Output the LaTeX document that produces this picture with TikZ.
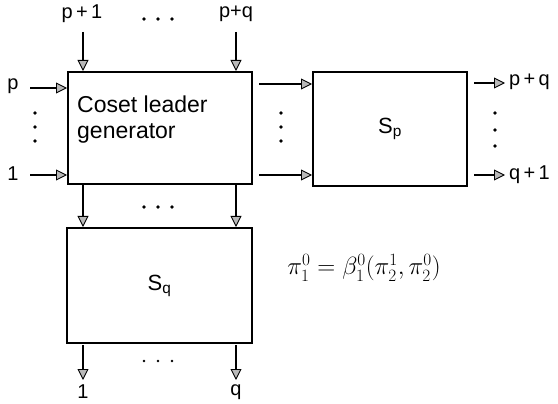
\documentclass[tikz,border=0pt]{standalone}
\usepackage{fontspec}
\setmainfont{Liberation Sans}
\usetikzlibrary{arrows.meta,positioning}
\tikzset{
  blk/.style={draw, line width=2pt, inner sep=0pt},
  sig/.style={line width=2.6pt, -{Triangle[length=11pt,width=11pt,line width=0.9pt,fill=gray!55]}},
  lbl/.style={font=\fontsize{20}{22}\selectfont, inner sep=1pt},
  dot/.style={fill=black, draw=none},
}
\begin{document}
\begin{tikzpicture}[x=1pt,y=-1pt]
\useasboundingbox (0,0) rectangle (558,404);
% boxes
\node[blk, minimum width=184pt, minimum height=112pt] (g) at (160,128) {};
\node[blk, minimum width=154pt, minimum height=114pt] (sp) at (390,129) {};
\node[blk, minimum width=185pt, minimum height=115pt] (sq) at (159.5,285.5) {};
\node[lbl, anchor=west, align=left, font=\fontsize{23}{26}\selectfont] (gt) at (76,120) {Coset leader\\generator};
\node[lbl, font=\fontsize{22}{24}\selectfont] (spt) at (sp.center) {S$_{\mathrm{p}}$};
\node[lbl, font=\fontsize{22}{24}\selectfont] (sqt) at (sq.center) {S$_{\mathrm{q}}$};
% top inputs
\node[lbl] (tp1) at (82,14) {p\,+\,1};
\node[lbl] (tpq) at (236,14) {p+q};
\coordinate (a1) at (83,32);
\coordinate (a2) at (236,32);
\draw[sig] (a1) -- (a1 |- g.north);
\draw[sig] (a2) -- (a2 |- g.north);
% left inputs
\node[lbl] (lp) at (13,86) {p};
\node[lbl] (l1) at (13,174) {1};
\coordinate (b1) at (30,88);
\coordinate (b2) at (30,175);
\draw[sig] (b1) -- (b1 -| g.west);
\draw[sig] (b2) -- (b2 -| g.west);
% generator to Sp
\coordinate (c1) at (259,84);
\coordinate (c2) at (259,175);
\draw[sig] (c1) -- (c1 -| sp.west);
\draw[sig] (c2) -- (c2 -| sp.west);
% Sp outputs
\coordinate (d1) at (474,83);
\coordinate (d2) at (474,175);
\coordinate (e1) at (505,83);
\coordinate (e2) at (505,175);
\draw[sig] (d1) -- (e1);
\draw[sig] (d2) -- (e2);
\node[lbl, anchor=west] (op) at (508,82) {p\,+\,q};
\node[lbl, anchor=west] (oq) at (508,175) {q\,+\,1};
% generator to Sq
\coordinate (f1) at (83,184);
\coordinate (f2) at (236,184);
\draw[sig] (f1) -- (f1 |- sq.north);
\draw[sig] (f2) -- (f2 |- sq.north);
% Sq outputs
\coordinate (h1) at (83,345);
\coordinate (h2) at (236,345);
\coordinate (k1) at (83,380);
\coordinate (k2) at (236,380);
\draw[sig] (h1) -- (k1);
\draw[sig] (h2) -- (k2);
\node[lbl] (o1) at (83,392) {1};
\node[lbl] (oqq) at (236,392) {q};
% dots
\foreach \x in {144,158,172} {
  \fill[dot] (\x,19) circle (1.8pt);
  \fill[dot] (\x,207) circle (1.8pt);
  \fill[dot] (\x,361) circle (1.4pt);
}
\foreach \y in {113,127,141} {
  \fill[dot] (35,\y) circle (1.8pt);
  \fill[dot] (281,\y) circle (1.8pt);
}
\foreach \y in {113,130,146} {
  \fill[dot] (495,\y) circle (1.8pt);
}
% formula
\node[lbl, font=\fontsize{23}{26}\selectfont] (eq) at (364,268) {$\pi_1^0=\beta_1^0(\pi_2^1,\pi_2^0)$};
\end{tikzpicture}
\end{document}
